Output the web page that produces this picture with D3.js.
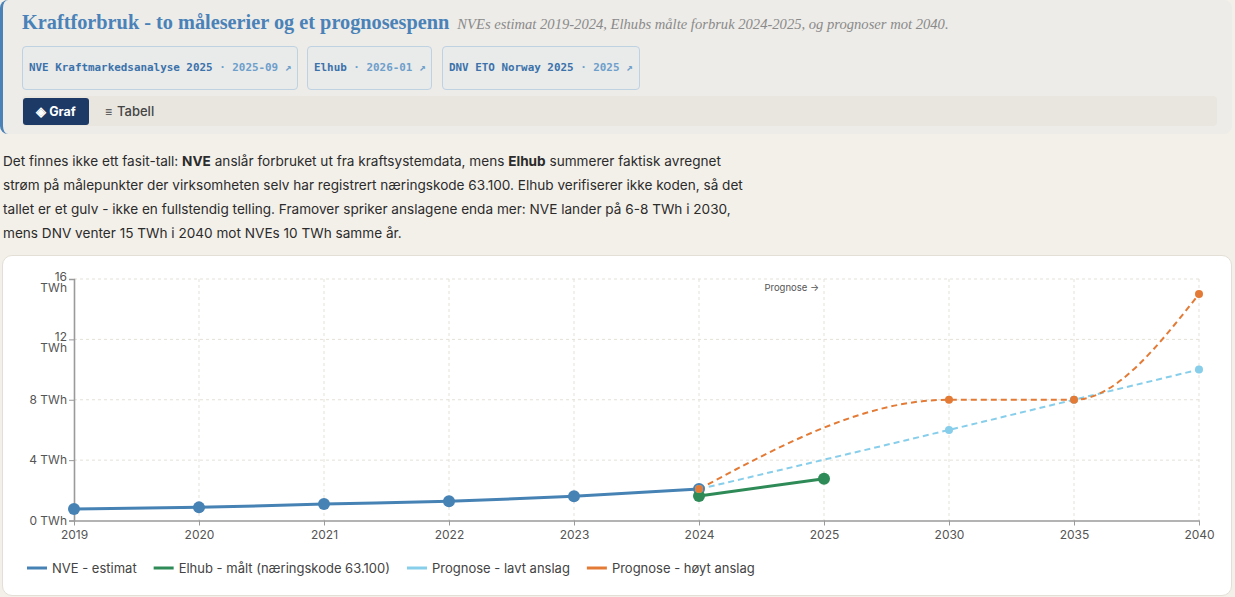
<!DOCTYPE html>
<html lang="no">
<head>
<meta charset="utf-8">
<script src="https://cdn.jsdelivr.net/npm/d3@7"></script>
<style>
  html,body{margin:0;padding:0;}
  body{width:1235px;height:597px;background:#f3f0ea;position:relative;overflow:hidden;font-family:Inter,"Noto Sans",sans-serif;}
  .panel{position:absolute;left:0;top:0;width:1229px;height:134px;background:#edece8;border-left:3px solid #4a82b8;border-radius:8px;}
  .title{position:absolute;left:19px;top:11px;white-space:nowrap;}
  .title .main{font-family:"Liberation Serif","DejaVu Serif",serif;font-weight:bold;font-size:20.3px;color:#4a82b8;}
  .title .sub{font-family:"Liberation Serif","DejaVu Serif",serif;font-style:italic;font-size:14.6px;color:#8a8a8a;margin-left:8px;}
  .src{position:absolute;top:46px;height:42px;line-height:42px;border:1px solid #bfd2e2;border-radius:4px;background:#e9eaea;font-family:"DejaVu Sans Mono",monospace;font-size:10.9px;font-weight:bold;color:#3b72aa;padding:0 6px;white-space:nowrap;}
  .src .d{color:#6d9fcb;}
  .tabs{position:absolute;left:19px;top:96px;width:1195px;height:30px;background:#e9e6df;border-radius:4px;}
  .graf{position:absolute;left:1px;top:2px;width:66px;height:27px;background:#1d3a66;border-radius:3px;color:#fff;font-weight:bold;font-size:12.5px;line-height:27px;text-align:center;}
  .tab2{position:absolute;left:83px;top:2px;height:27px;line-height:27px;color:#444;font-size:13px;font-weight:500;}
  .tab2 .ic{font-size:12px;margin-right:5px;}
  .para{position:absolute;left:3px;top:149px;width:748px;font-size:13.6px;line-height:24px;color:#2b2b2b;}
  .card{position:absolute;left:2px;top:255px;width:1228px;height:339px;background:#fff;border:1px solid #e3dfd6;border-radius:10px;}
  svg{position:absolute;left:0;top:0;}
</style>
</head>
<body>
<div class="panel">
  <div class="title"><span class="main">Kraftforbruk - to måleserier og et prognosespenn</span><span class="sub">NVEs estimat 2019-2024, Elhubs målte forbruk 2024-2025, og prognoser mot 2040.</span></div>
  <div class="src" style="left:19px;">NVE Kraftmarkedsanalyse 2025 <span class="d">· 2025-09 ↗</span></div>
  <div class="src" style="left:304px;">Elhub <span class="d">· 2026-01 ↗</span></div>
  <div class="src" style="left:439px;">DNV ETO Norway 2025 <span class="d">· 2025 ↗</span></div>
  <div class="tabs"><div class="graf">◈ Graf</div><div class="tab2"><span class="ic">≡</span>Tabell</div></div>
</div>
<div class="para">Det finnes ikke ett fasit-tall: <b>NVE</b> anslår forbruket ut fra kraftsystemdata, mens <b>Elhub</b> summerer faktisk avregnet strøm på målepunkter der virksomheten selv har registrert næringskode 63.100. Elhub verifiserer ikke koden, så det tallet er et gulv - ikke en fullstendig telling. Framover spriker anslagene enda mer: NVE lander på 6-8 TWh i 2030, mens DNV venter 15 TWh i 2040 mot NVEs 10 TWh samme år.</div>
<div class="card"></div>
<svg id="chart" width="1235" height="597"></svg>
<script>
// ---- data ----
const years = ["2019","2020","2021","2022","2023","2024","2025","2030","2035","2040"];
const yTicks = [0, 4, 8, 12, 16];
const nveYears = ["2019","2020","2021","2022","2023","2024"];
const nveValues = [0.76, 0.87, 1.09, 1.27, 1.6, 2.08];
const elhubYears = ["2024","2025"];
const elhubValues = [1.62, 2.77];
const lowYears = ["2024","2030","2035","2040"];
const lowValues = [2.08, 6, 8, 10];
const highYears = ["2024","2030","2035","2040"];
const highValues = [2.08, 8, 8, 15];
const legendLabels = ["NVE - estimat","Elhub - målt (næringskode 63.100)","Prognose - lavt anslag","Prognose - høyt anslag"];

const colors = {nve:"#4682b4", elhub:"#2e8b57", low:"#87ceeb", high:"#e37b36"};

const svg = d3.select("#chart");
const x = d3.scalePoint().domain(years).range([74, 1199]);
const y = d3.scaleLinear().domain([0, 16]).range([520.5, 279]);

const grid = svg.append("g");
grid.selectAll("line.h").data(yTicks.filter(d=>d>0)).join("line")
  .attr("x1", 74).attr("x2", 1199).attr("y1", d=>y(d)).attr("y2", d=>y(d))
  .attr("stroke", "#e4e1d8").attr("stroke-dasharray", "3,3");
grid.selectAll("line.v").data(years.slice(1)).join("line")
  .attr("x1", d=>x(d)).attr("x2", d=>x(d)).attr("y1", y(16)).attr("y2", y(0))
  .attr("stroke", "#e4e1d8").attr("stroke-dasharray", "3,3");

// axes
const yAxis = svg.append("g").attr("transform", `translate(74,0)`)
  .call(d3.axisLeft(y).tickValues(yTicks).tickSize(5).tickFormat(d => d + " TWh"));
const xAxis = svg.append("g").attr("transform", `translate(0,${y(0)})`)
  .call(d3.axisBottom(x).tickSize(5).tickSizeOuter(0));
[yAxis, xAxis].forEach(a => {
  a.select(".domain").attr("stroke", "#9a9a9a").attr("stroke-width", 1.6);
  a.selectAll(".tick line").attr("stroke", "#9a9a9a");
  a.selectAll(".tick text").attr("fill", "#555").style("font-family", "Inter, sans-serif").style("font-size", "12px");
});
xAxis.selectAll(".tick text").attr("dy", "0.9em");
yAxis.selectAll(".tick text").attr("x", -7);
// wrap long y labels
yAxis.selectAll(".tick text").each(function(d){
  const t = d3.select(this);
  if (this.getComputedTextLength() > 38) {
    const parts = t.text().split(" ");
    t.text(null).attr("dy", null);
    t.append("tspan").attr("x", -7).attr("y", 1).text(parts[0]);
    t.append("tspan").attr("x", -7).attr("y", 12).text(parts[1]);
  }
});

// Prognose label
svg.append("text").attr("x", x("2025") - 5).attr("y", 291).attr("text-anchor", "end")
  .attr("fill", "#555").style("font-family", "Inter, sans-serif").style("font-size", "9.5px").text("Prognose →");

function series(xs, vs){ return xs.map((k,i)=>({k, v:vs[i]})); }
const line = d3.line().x(d=>x(d.k)).y(d=>y(d.v)).curve(d3.curveMonotoneX);

const low = series(lowYears, lowValues), high = series(highYears, highValues);
const nve = series(nveYears, nveValues), elhub = series(elhubYears, elhubValues);

svg.append("path").datum(low).attr("d", line).attr("fill","none").attr("stroke", colors.low).attr("stroke-width", 2).attr("stroke-dasharray","6,4");
svg.append("path").datum(high).attr("d", line).attr("fill","none").attr("stroke", colors.high).attr("stroke-width", 2).attr("stroke-dasharray","6,4");
svg.append("path").datum(nve).attr("d", line).attr("fill","none").attr("stroke", colors.nve).attr("stroke-width", 3);
svg.append("path").datum(elhub).attr("d", line).attr("fill","none").attr("stroke", colors.elhub).attr("stroke-width", 3);

svg.append("g").selectAll("circle").data(nve).join("circle").attr("cx", d=>x(d.k)).attr("cy", d=>y(d.v)).attr("r", 6).attr("fill", colors.nve);
svg.append("g").selectAll("circle").data(elhub).join("circle").attr("cx", d=>x(d.k)).attr("cy", d=>y(d.v)).attr("r", 6).attr("fill", colors.elhub);
svg.append("g").selectAll("circle").data(low).join("circle").attr("cx", d=>x(d.k)).attr("cy", d=>y(d.v)).attr("r", 4).attr("fill", colors.low);
svg.append("g").selectAll("circle").data(high).join("circle").attr("cx", d=>x(d.k)).attr("cy", d=>y(d.v)).attr("r", 4).attr("fill", colors.high);

// legend
const legColors = [colors.nve, colors.elhub, colors.low, colors.high];
const leg = svg.append("g").attr("transform", "translate(27,568)");
let cx = 0;
legendLabels.forEach((lab, i) => {
  const g = leg.append("g").attr("transform", `translate(${cx},0)`);
  g.append("line").attr("x1",0).attr("x2",20).attr("y1",0).attr("y2",0).attr("stroke", legColors[i]).attr("stroke-width", 3);
  const t = g.append("text").attr("x", 25).attr("dy","0.35em").attr("fill","#444")
    .style("font-family","Inter, sans-serif").style("font-size","13px").text(lab);
  cx += 25 + t.node().getComputedTextLength() + 17;
});
</script>
</body>
</html>
